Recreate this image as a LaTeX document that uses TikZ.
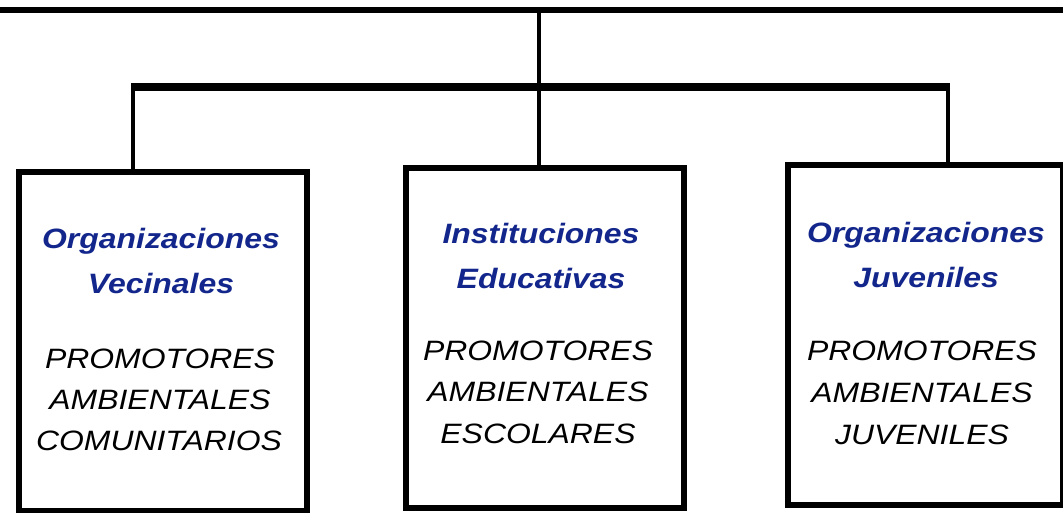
\documentclass[tikz,border=0pt]{standalone}
\usepackage{fontspec}
\setmainfont{Liberation Sans}
\newfontfamily\labfont[FakeStretch=1.14]{Liberation Sans}
\definecolor{titleblue}{RGB}{18,38,140}
\begin{document}
\begin{tikzpicture}[x=1pt,y=-1pt,
  box/.style={draw=black, line width=6pt, inner sep=0pt, fill=white},
  conn/.style={draw=black, line width=4.5pt},
  title/.style={font=\labfont\bfseries\itshape\fontsize{28}{34}\selectfont, text=titleblue, inner sep=0pt, anchor=base},
  body/.style={font=\labfont\itshape\fontsize{28}{34}\selectfont, text=black, inner sep=0pt, anchor=base}]
\useasboundingbox (0,0) rectangle (1063,512);
\fill[white] (0,0) rectangle (1063,512);
% boxes
\node[box, minimum width=288pt, minimum height=339pt, anchor=north west] (b1) at (16,169) {};
\node[box, minimum width=278pt, minimum height=340pt, anchor=north west] (b2) at (403,165) {};
\node[box, minimum width=275pt, minimum height=340pt, anchor=north west] (b3) at (785,162) {};
% connector points
\coordinate (tl) at (0,10);
\coordinate (tr) at (1063,10);
\coordinate (tm) at (539,10);
\coordinate (bl) at (133,87);
\coordinate (br) at (948,87);
\coordinate (blo) at (131,87);
\coordinate (bro) at (950,87);
% connectors
\draw[conn, line width=6pt] (tl) -- (tr);
\draw[conn] (tm) -- (tm |- b2.north);
\draw[conn, line width=8pt] (blo) -- (bro);
\draw[conn] (bl) -- (bl |- b1.north);
\draw[conn] (br) -- (br |- b3.north);
% texts box 1
\node[title] (t1a) at (161,248) {Organizaciones};
\node[title] (t1b) at (161,293) {Vecinales};
\node[body] (p1a) at (160,368) {PROMOTORES};
\node[body] (p1b) at (160,409) {AMBIENTALES};
\node[body] (p1c) at (159,450) {COMUNITARIOS};
% texts box 2
\node[title] (t2a) at (541,243) {Instituciones};
\node[title] (t2b) at (541,288) {Educativas};
\node[body] (p2a) at (538,360) {PROMOTORES};
\node[body] (p2b) at (538,401) {AMBIENTALES};
\node[body] (p2c) at (538,443) {ESCOLARES};
% texts box 3
\node[title] (t3a) at (926,242) {Organizaciones};
\node[title] (t3b) at (926,287) {Juveniles};
\node[body] (p3a) at (922,360) {PROMOTORES};
\node[body] (p3b) at (922,402) {AMBIENTALES};
\node[body] (p3c) at (922,444) {JUVENILES};
\end{tikzpicture}
\end{document}
